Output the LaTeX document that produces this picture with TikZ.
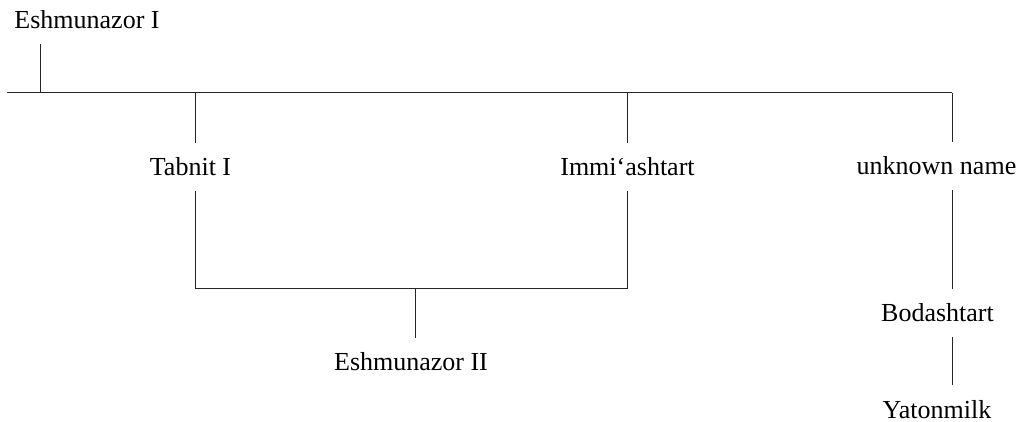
\documentclass[tikz,border=0pt]{standalone}
\usepackage{fontspec}
\setmainfont{Liberation Serif}
\begin{document}
\begin{tikzpicture}[x=1pt,y=-1pt,
  person/.style={anchor=base,font=\fontsize{26}{30}\selectfont,text height=17.5pt,text depth=0pt,inner xsep=0pt,inner ysep=15pt},
  link/.style={line width=1pt,draw=black!85}]
\useasboundingbox (0,0) rectangle (1025,422);
\node[person] (e1) at (87,29) {Eshmunazor I};
\node[person] (t1) at (190.5,176) {Tabnit I};
\node[person] (im) at (627.5,176) {Immi‘ashtart};
\node[person] (un) at (936.5,175) {unknown name};
\node[person] (e2) at (411,370.7) {Eshmunazor II};
\node[person] (bo) at (937.5,321.7) {Bodashtart};
\node[person] (ya) at (937,418) {Yatonmilk};
\coordinate (topL) at (7,93);
\coordinate (topR) at (952,93);
\coordinate (xE1) at (40.5,0);
\coordinate (xT1) at (195,0);
\coordinate (xIm) at (627.5,0);
\coordinate (xUn) at (952,0);
\coordinate (xE2) at (415.5,0);
\coordinate (mar) at (0,288);
\draw[link] (topL) -- (topR);
\draw[link] (e1.south -| xE1) -- (xE1 |- topL);
\draw[link] (xT1 |- topL) -- (t1.north -| xT1);
\draw[link] (xIm |- topL) -- (im.north -| xIm);
\draw[link] (xUn |- topL) -- (un.north -| xUn);
\draw[link] (t1.south -| xT1) -- (xT1 |- mar) -- (xIm |- mar) -- (im.south -| xIm);
\draw[link] (xE2 |- mar) -- (e2.north -| xE2);
\draw[link] (un.south -| xUn) -- (bo.north -| xUn);
\draw[link] (bo.south -| xUn) -- (ya.north -| xUn);
\end{tikzpicture}
\end{document}
